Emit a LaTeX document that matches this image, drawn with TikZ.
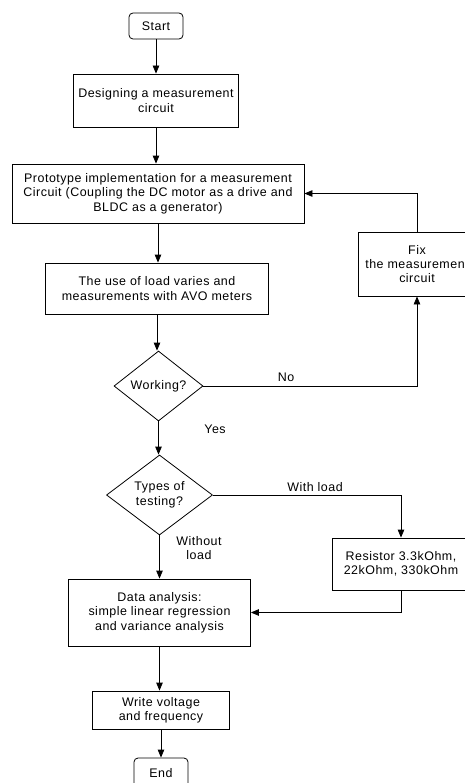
\documentclass[tikz,border=0pt]{standalone}
\usepackage{fontspec}
\setmainfont[LetterSpace=4]{Liberation Sans}
\usetikzlibrary{arrows.meta,shapes.geometric}
\tikzset{
	flowbox/.style={draw, line width=0.8bp, align=center, inner sep=2bp, font=\fontsize{12.5}{14.5}\selectfont},
	termbox/.style={flowbox, rounded corners=4bp},
	decision/.style={draw, line width=0.8bp, diamond, aspect=1.3, inner sep=0pt, align=center, font=\fontsize{12.5}{14.5}\selectfont},
	flowlabel/.style={align=center, font=\fontsize{12.5}{14.5}\selectfont},
	flowline/.style={line width=0.8bp, -{Triangle[length=8bp,width=6.5bp]}}
}

\begin{document}
\begin{tikzpicture}[x=1bp, y=-1bp]
				\useasboundingbox (0,0) rectangle (465,783);
				
				\node[termbox, minimum width=54bp, minimum height=26bp] (start) at (156,26) {Start};
				\node[flowbox, minimum width=165bp, minimum height=53bp] (design) at (156,100.5) {Designing a measurement\\circuit};
				\node[flowbox, minimum width=292bp, minimum height=59bp] (proto) at (158,193.5) {Prototype implementation for a measurement\\Circuit (Coupling the DC motor as a drive and\\BLDC as a generator)};
				\node[flowbox, minimum width=223bp, minimum height=51bp] (load) at (157,288.5) {The use of load varies and\\measurements with AVO meters};
				\node[flowbox, minimum width=118bp, minimum height=64bp] (fix) at (417,264) {Fix\\the measurement\\circuit};
				
				\node[decision, minimum width=89bp, minimum height=70bp] (working) at (158.5,386) {Working?};
				\node[decision, minimum width=106bp, minimum height=80bp] (types) at (159.5,495) {Types of\\testing?};
				
				\node[flowbox, minimum width=138bp, minimum height=52bp] (resistor) at (401,564) {Resistor 3.3kOhm,\\22kOhm, 330kOhm};
				\node[flowbox, minimum width=182bp, minimum height=67bp] (data) at (159.5,612.5) {Data analysis:\\simple linear regression\\and variance analysis};
				\node[flowbox, minimum width=137bp, minimum height=38bp] (write) at (161,710) {Write voltage\\and frequency};
				\node[termbox, minimum width=54bp, minimum height=30bp] (end) at (161,773) {End};
				
				\node[flowlabel] (no) at (286,377) {No};
				\node[flowlabel] (yes) at (215,429) {Yes};
				\node[flowlabel] (withload) at (315,487) {With load};
				\node[flowlabel] (withoutload) at (199,548) {Without\\load};
				
				\draw[flowline] (start) -- (start |- design.north);
				\draw[flowline] (design) -- (design |- proto.north);
				\draw[flowline] (proto) -- (proto |- load.north);
				\draw[flowline] (load) -- (load |- working.north);
				\draw[flowline] (working) -- (working |- types.north);
				\draw[flowline] (types) -- (types |- data.north);
				\draw[flowline] (data) -- (data |- write.north);
				\draw[flowline] (write) -- (write |- end.north);
				
				\draw[flowline] (working.east) -| (fix.south);
				\draw[flowline] (fix.north) |- (proto.east);
				\draw[flowline] (types.east) -| (resistor.north);
				\draw[flowline] (resistor.south) |- (data.east);
			\end{tikzpicture}
\end{document}
